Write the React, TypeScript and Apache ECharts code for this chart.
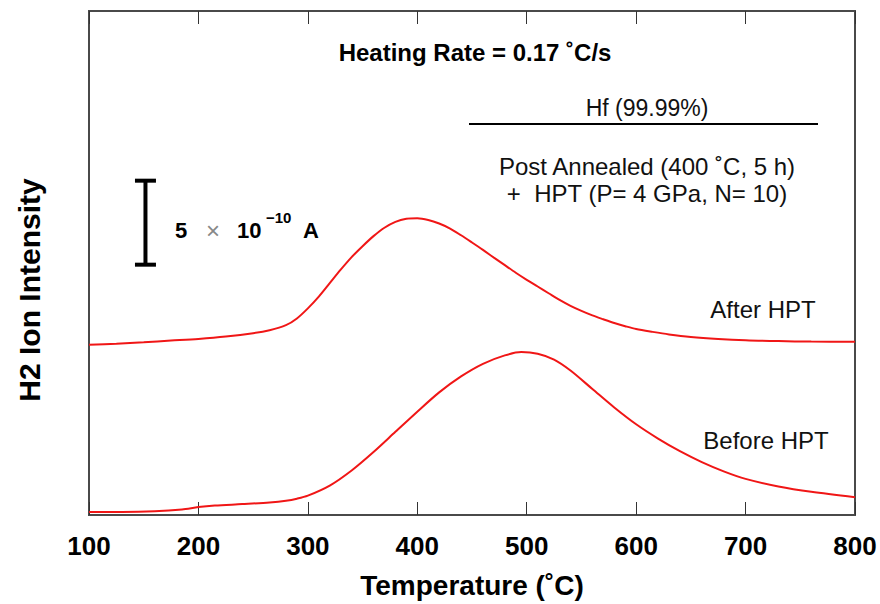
import React, { useEffect, useRef } from "react";
import * as echarts from "echarts";

// Temperature (°C) and H2 ion intensity (units of 1e-10 A, offset for stacking)
const afterT = [100,125,150,175,200,225,250,265,280,290,300,310,320,330,340,350,360,370,380,390,400,410,420,430,440,450,460,470,480,490,500,510,520,530,540,550,560,570,580,590,600,615,630,650,675,700,730,760,800];
const afterV = [10.13,10.20,10.28,10.38,10.48,10.62,10.82,11.00,11.30,11.70,12.30,13.00,13.80,14.60,15.35,16.00,16.60,17.10,17.45,17.63,17.66,17.56,17.35,17.05,16.65,16.22,15.78,15.32,14.87,14.42,14.00,13.60,13.20,12.80,12.45,12.15,11.88,11.65,11.43,11.24,11.07,10.90,10.75,10.60,10.48,10.40,10.35,10.32,10.31];
const beforeT = [100,130,160,185,200,215,240,265,280,290,300,320,340,360,380,400,420,440,460,480,495,510,525,540,560,580,600,620,640,660,680,700,730,760,800];
const beforeV = [0.18,0.18,0.22,0.33,0.47,0.56,0.65,0.75,0.85,0.97,1.15,1.75,2.65,3.75,4.95,6.15,7.30,8.25,9.00,9.50,9.70,9.60,9.25,8.60,7.50,6.40,5.40,4.55,3.80,3.15,2.60,2.15,1.70,1.38,1.06];
const xTicks = [100, 200, 300, 400, 500, 600, 700, 800];
// Scale bar: 5 × 10^-10 A
const scaleBarT = [151.6, 151.6];
const scaleBarV = [14.9, 19.9];

const FONT = "'Liberation Sans', Arial, sans-serif";

export default function App() {
  const ref = useRef<HTMLDivElement>(null);
  useEffect(() => {
    if (!ref.current) return;
    const chart = echarts.init(ref.current, null, { renderer: "svg" });
    const pair = (t: number[], v: number[]) => t.map((x, i) => [x, v[i]]);
    const lineStyle = { color: "#f01616", width: 2 };
    const txt = (x: number, y: number, text: string, fontSize: number, bold: boolean, align = "center", fill = "#111") => ({
      type: "text", x, y,
      style: { text, fontSize, fontWeight: bold ? "bold" : "normal", fontFamily: FONT, fill, align, verticalAlign: "middle" },
    });
    chart.setOption({
      animation: false,
      backgroundColor: "#ffffff",
      grid: { left: 89, top: 11, width: 766, height: 511, show: true, borderColor: "#4a4a4a", borderWidth: 2 },
      xAxis: [
        {
          type: "value", position: "bottom", min: xTicks[0], max: xTicks[xTicks.length - 1], interval: 100,
          axisLine: { show: true, lineStyle: { color: "#4a4a4a", width: 2 } },
          axisTick: { show: true, inside: true, length: 13, lineStyle: { color: "#333", width: 1 } },
          splitLine: { show: false },
          axisLabel: { color: "#000", fontSize: 26, fontWeight: "bold", fontFamily: FONT, margin: 18 },
          name: "Temperature (˚C)", nameLocation: "middle", nameGap: 56,
          nameTextStyle: { color: "#000", fontSize: 28, fontWeight: "bold", fontFamily: FONT },
        },
        {
          type: "value", position: "top", min: xTicks[0], max: xTicks[xTicks.length - 1], interval: 100,
          axisLine: { show: true, lineStyle: { color: "#4a4a4a", width: 2 } },
          axisTick: { show: true, inside: true, length: 13, lineStyle: { color: "#333", width: 1 } },
          axisLabel: { show: false }, splitLine: { show: false },
        },
      ],
      yAxis: {
        type: "value", min: 0, max: 30,
        axisLine: { show: false }, axisTick: { show: false }, axisLabel: { show: false }, splitLine: { show: false },
      },
      series: [
        { type: "line", data: pair(afterT, afterV), showSymbol: false, smooth: 0.3, lineStyle, silent: true },
        { type: "line", data: pair(beforeT, beforeV), showSymbol: false, smooth: 0.3, lineStyle, silent: true },
        {
          type: "line", data: pair(scaleBarT, scaleBarV), symbol: "rect", symbolSize: [21, 4], showSymbol: true,
          itemStyle: { color: "#000" }, lineStyle: { color: "#000", width: 4 }, silent: true,
        },
      ],
      graphic: [
        txt(475, 52, "Heating Rate = 0.17 ˚C/s", 24, true, "center", "#000"),
        txt(647, 108, "Hf (99.99%)", 23, false),
        { type: "line", shape: { x1: 469, y1: 124, x2: 818, y2: 124 }, style: { stroke: "#000", lineWidth: 2 } },
        txt(647, 166, "Post Annealed (400 ˚C, 5 h)", 24, false),
        txt(647, 193, "+  HPT (P= 4 GPa, N= 10)", 24, false),
        txt(175, 230, "5", 22, true, "left", "#000"),
        txt(206, 230, "×", 24, false, "left", "#888"),
        txt(237, 230, "10", 22, true, "left", "#000"),
        txt(266, 217, "−10", 15, true, "left", "#000"),
        txt(303, 230, "A", 22, true, "left", "#000"),
        txt(763, 309, "After HPT", 24, false),
        txt(766, 440, "Before HPT", 24, false),
        { type: "text", x: 29, y: 290, rotation: Math.PI / 2, style: { text: "H2 Ion Intensity", fontSize: 30, fontWeight: "bold", fontFamily: FONT, fill: "#000", align: "center", verticalAlign: "middle" } },
      ],
    });
    return () => chart.dispose();
  }, []);
  return <div ref={ref} style={{ position: "fixed", left: 0, top: 0, width: 880, height: 604 }} />;
}
